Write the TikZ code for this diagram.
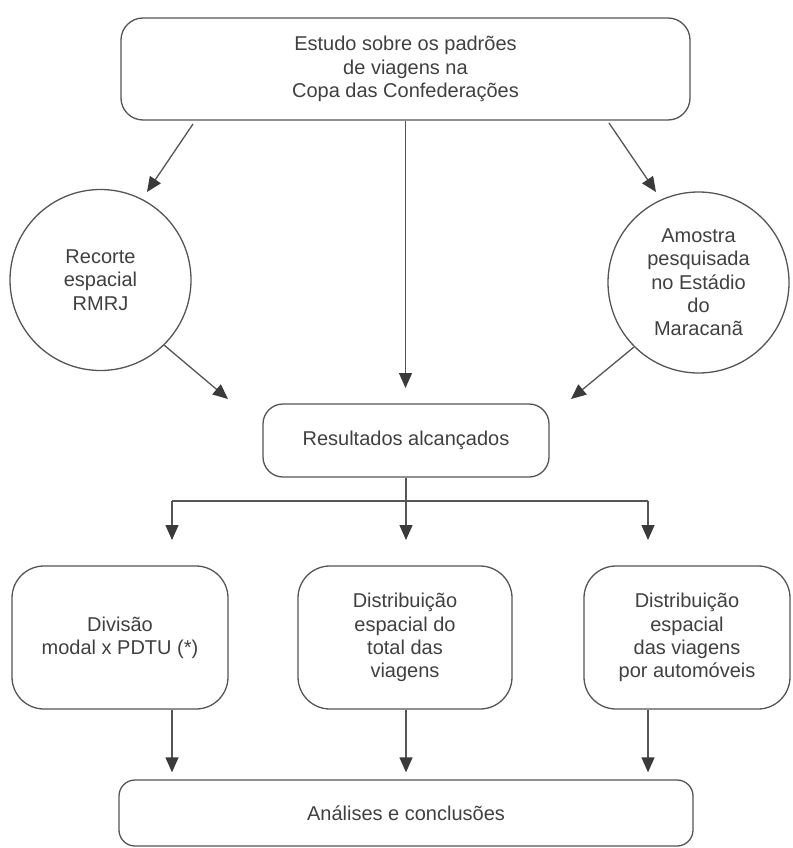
\documentclass[tikz,border=0pt]{standalone}
\usepackage{fontspec}
\setmainfont{Liberation Sans}
\usetikzlibrary{arrows.meta,calc}
\definecolor{linec}{HTML}{555555}
\definecolor{textc}{HTML}{404040}
\definecolor{headc}{HTML}{3A3A3A}
\begin{document}
\begin{tikzpicture}[x=1pt,y=-1pt,
  base/.style={draw=linec,line width=1.3pt,text=textc,align=center,
    font=\fontsize{20}{23.3}\selectfont,inner sep=0pt},
  rbox/.style={base,rectangle},
  circ/.style={base,circle,minimum size=181pt},
  arr/.style={draw=linec,line width=1.3pt,
    -{Triangle[width=13pt,length=15pt,fill=headc,color=headc]}},
  ln/.style={draw=linec,line width=1.3pt}]
\useasboundingbox (0,0) rectangle (792,848);

% nodes
\node[rbox,rounded corners=22pt,minimum width=569pt,minimum height=102pt] (top) at (405.5,69)
  {Estudo sobre os padrões\\de viagens na\\Copa das Confederações};
\node[circ] (cl) at (100.5,280) {Recorte\\espacial\\RMRJ};
\node[circ] (cr) at (698.5,282.5) {Amostra\\pesquisada\\no Estádio\\do\\Maracanã};
\node[rbox,rounded corners=20pt,minimum width=286pt,minimum height=73pt] (res) at (406,440.5)
  {Resultados alcançados};
\node[rbox,rounded corners=32pt,minimum width=216pt,minimum height=143pt] (b1) at (120,637.5)
  {Divisão\\modal x PDTU (*)};
\node[rbox,rounded corners=32pt,minimum width=214pt,minimum height=143pt] (b2) at (405,637.5)
  {Distribuição\\espacial do\\total das\\viagens};
\node[rbox,rounded corners=32pt,minimum width=206pt,minimum height=143pt] (b3) at (687,637.5)
  {Distribuição\\espacial\\das viagens\\por automóveis};
\node[rbox,rounded corners=16pt,minimum width=574pt,minimum height=66pt] (fin) at (406,813)
  {Análises e conclusões};

% free ends
\coordinate (a1s) at (193,124);
\coordinate (a1e) at (147,192);
\coordinate (a2s) at (609,123);
\coordinate (a2e) at (656,192);
\coordinate (a3e) at (405.5,388);
\coordinate (a4s) at (164,345);
\coordinate (a4e) at (228,399);
\coordinate (a5s) at (634,347);
\coordinate (a5e) at (571,399);
\coordinate (br) at (406,501);
\coordinate (x1) at (172,501);
\coordinate (x3) at (648,501);
\coordinate (e1) at (172,540);
\coordinate (e2) at (406,540);
\coordinate (e3) at (648,540);

% connectors
\draw[arr] (a1s) -- (a1e);
\draw[arr] (a2s) -- (a2e);
\draw[arr] (top.south) -- (a3e);
\draw[arr] (a4s) -- (a4e);
\draw[arr] (a5s) -- (a5e);
\draw[arr] (res.south) -- (e2);
\draw[ln] (x1) -- (x3);
\draw[arr] (x1) -- (e1);
\draw[arr] (x3) -- (e3);
\draw[arr,shorten >=7pt] (b1.south -| x1) -- (x1 |- fin.north);
\draw[arr,shorten >=7pt] (b2.south -| br) -- (br |- fin.north);
\draw[arr,shorten >=7pt] (b3.south -| x3) -- (x3 |- fin.north);
\end{tikzpicture}
\end{document}
